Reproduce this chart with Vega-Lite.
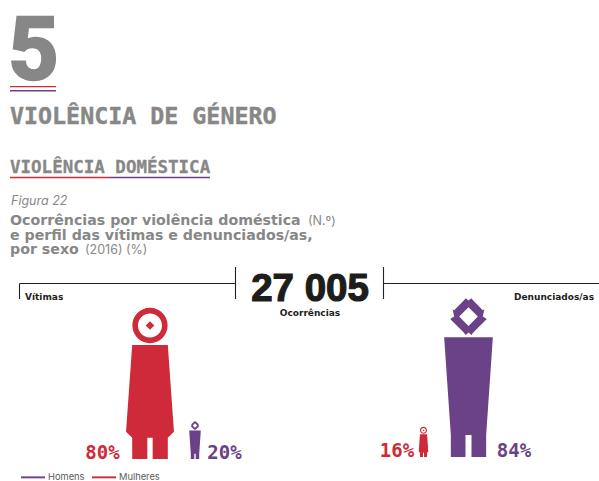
{
"$schema":"https://vega.github.io/schema/vega-lite/v6.json",
"width":599,"height":481,"padding":0,"autosize":{"type":"none"},"background":"white",
"config":{"view":{"stroke":null},"axis":{"domain":false}},
"resolve":{"scale":{"x":"independent","y":"independent"}},
"layer":[
{"data":{"values":[{"n":1}]},"encoding":{
"x":{"type":"quantitative","scale":{"domain":[0,599],"range":[0,599],"nice":false,"zero":false},"axis":null},
"y":{"type":"quantitative","scale":{"domain":[0,481],"range":[0,481],"nice":false,"zero":false},"axis":null}},
"layer":[
{"data":{"values":[{"t":"5"}]},"mark":{"type":"text","font":"Roboto","fontWeight":"bold","fontSize":88,"align":"left","baseline":"alphabetic","color":"#878787","stroke":"#878787","strokeWidth":2.5},"encoding":{"x":{"datum":8},"y":{"datum":79},"text":{"field":"t"}}},
{"data":{"values":[{"t":"VIOLÊNCIA DE GÉNERO"}]},"mark":{"type":"text","font":"DejaVu Sans Mono","fontWeight":"bold","fontSize":23.3,"align":"left","baseline":"alphabetic","color":"#878787","stroke":"#878787","strokeWidth":0.4},"encoding":{"x":{"datum":10},"y":{"datum":124},"text":{"field":"t"}}},
{"data":{"values":[{"t":"VIOLÊNCIA DOMÉSTICA"}]},"mark":{"type":"text","font":"DejaVu Sans Mono","fontWeight":"bold","fontSize":17.5,"align":"left","baseline":"alphabetic","color":"#878787","stroke":"#878787","strokeWidth":0.3},"encoding":{"x":{"datum":10},"y":{"datum":173},"text":{"field":"t"}}},
{"data":{"values":[{"t":"Figura 22"}]},"mark":{"type":"text","font":"Inter","fontStyle":"italic","fontSize":12.5,"align":"left","baseline":"alphabetic","color":"#878787"},"encoding":{"x":{"datum":11},"y":{"datum":205},"text":{"field":"t"}}},
{"data":{"values":[{"t":"Ocorrências por violência doméstica"}]},"mark":{"type":"text","font":"DejaVu Sans","fontWeight":"bold","fontSize":14.2,"align":"left","baseline":"alphabetic","color":"#878787"},"encoding":{"x":{"datum":10},"y":{"datum":225},"text":{"field":"t"}}},
{"data":{"values":[{"t":"e perfil das vítimas e denunciados/as,"}]},"mark":{"type":"text","font":"DejaVu Sans","fontWeight":"bold","fontSize":14.2,"align":"left","baseline":"alphabetic","color":"#878787"},"encoding":{"x":{"datum":10},"y":{"datum":240},"text":{"field":"t"}}},
{"data":{"values":[{"t":"por sexo"}]},"mark":{"type":"text","font":"DejaVu Sans","fontWeight":"bold","fontSize":14.2,"align":"left","baseline":"alphabetic","color":"#878787"},"encoding":{"x":{"datum":10},"y":{"datum":254},"text":{"field":"t"}}},
{"data":{"values":[{"t":"(N.º)"}]},"mark":{"type":"text","font":"Inter","fontSize":12.5,"align":"left","baseline":"alphabetic","color":"#878787"},"encoding":{"x":{"datum":308},"y":{"datum":225},"text":{"field":"t"}}},
{"data":{"values":[{"t":"(2016) (%)"}]},"mark":{"type":"text","font":"Inter","fontSize":12.5,"align":"left","baseline":"alphabetic","color":"#878787"},"encoding":{"x":{"datum":85},"y":{"datum":254},"text":{"field":"t"}}},
{"data":{"values":[{"t":"27 005"}]},"mark":{"type":"text","font":"Liberation Sans","fontWeight":"bold","fontSize":38.5,"align":"center","baseline":"alphabetic","color":"#1d1d1b","stroke":"#1d1d1b","strokeWidth":1.2},"encoding":{"x":{"datum":310},"y":{"datum":300.5},"text":{"field":"t"}}},
{"data":{"values":[{"t":"Ocorrências"}]},"mark":{"type":"text","font":"DejaVu Sans","fontWeight":"bold","fontSize":9,"align":"center","baseline":"alphabetic","color":"#1d1d1b"},"encoding":{"x":{"datum":310},"y":{"datum":316},"text":{"field":"t"}}},
{"data":{"values":[{"t":"Vítimas"}]},"mark":{"type":"text","font":"DejaVu Sans","fontWeight":"bold","fontSize":9,"align":"left","baseline":"alphabetic","color":"#1d1d1b"},"encoding":{"x":{"datum":25},"y":{"datum":300},"text":{"field":"t"}}},
{"data":{"values":[{"t":"Denunciados/as"}]},"mark":{"type":"text","font":"DejaVu Sans","fontWeight":"bold","fontSize":9,"align":"right","baseline":"alphabetic","color":"#1d1d1b"},"encoding":{"x":{"datum":594},"y":{"datum":300},"text":{"field":"t"}}},
{"mark":{"type":"rule","color":"#222222","strokeWidth":1.1},"encoding":{"x":{"datum":19.5},"x2":{"datum":235.5},"y":{"datum":283.5}}},
{"mark":{"type":"rule","color":"#222222","strokeWidth":1.1},"encoding":{"x":{"datum":19.5},"y":{"datum":283.5},"y2":{"datum":299}}},
{"mark":{"type":"rule","color":"#222222","strokeWidth":1.1},"encoding":{"x":{"datum":235.5},"y":{"datum":267},"y2":{"datum":299}}},
{"mark":{"type":"rule","color":"#222222","strokeWidth":1.1},"encoding":{"x":{"datum":383.5},"y":{"datum":267},"y2":{"datum":299}}},
{"mark":{"type":"rule","color":"#222222","strokeWidth":1.1},"encoding":{"x":{"datum":383.5},"x2":{"datum":599},"y":{"datum":283.5}}},
{"mark":{"type":"rule","color":"#cf2a3a","strokeWidth":1.2},"encoding":{"x":{"datum":10},"x2":{"datum":56},"y":{"datum":86.7}}},
{"mark":{"type":"rule","color":"#6b4187","strokeWidth":1.6},"encoding":{"x":{"datum":10},"x2":{"datum":56},"y":{"datum":90.7}}},
{"mark":{"type":"rule","color":"#cf2a3a","strokeWidth":1.6},"encoding":{"x":{"datum":10},"x2":{"datum":110},"y":{"datum":177.5}}},
{"mark":{"type":"rule","color":"#6b4187","strokeWidth":1.6},"encoding":{"x":{"datum":110},"x2":{"datum":210},"y":{"datum":177.5}}}
]},
{"data":{"values":[
{"grupo":"Vítimas","sexo":"Mulheres","pct":80,"rotulo":"80%"},
{"grupo":"Vítimas","sexo":"Homens","pct":20,"rotulo":"20%"},
{"grupo":"Denunciados/as","sexo":"Mulheres","pct":16,"rotulo":"16%"},
{"grupo":"Denunciados/as","sexo":"Homens","pct":84,"rotulo":"84%"}
]},
"encoding":{
"x":{"field":"grupo","type":"nominal","scale":{"type":"point","padding":0,"domain":["Vítimas","Denunciados/as"],"range":[172.5,446]},"axis":null},
"y":{"field":"grupo","type":"nominal","scale":{"type":"point","padding":0,"domain":["Vítimas","Denunciados/as"],"range":[459,457]},"axis":null},
"color":{"field":"sexo","type":"nominal","scale":{"domain":["Homens","Mulheres"],"range":["#6b4187","#cf2a3a"]},
"legend":{"title":null,"orient":"none","legendX":20,"legendY":464,"direction":"horizontal","symbolType":"M-1,-0.08H1V0.08H-1Z","symbolSize":576,"symbolOpacity":1,"labelFont":"Inter","labelFontSize":9.3,"labelColor":"#5a5a5a","labelOffset":2,"columnPadding":6,"padding":0}}},
"layer":[
{"mark":{"type":"point","filled":true,"opacity":1,"strokeWidth":0},
"encoding":{
"xOffset":{"field":"sexo","type":"nominal","scale":{"type":"point","padding":0,"domain":["Mulheres","Homens"],"range":[-22.5,22.5]}},
"size":{"field":"pct","type":"quantitative","legend":null,"scale":{"type":"pow","exponent":2,"domain":[0,100],"range":[0,142884]}},
"shape":{"field":"sexo","type":"nominal","legend":null,"scale":{"domain":["Mulheres","Homens"],"range":[
"M0,-0.9997A0.1167,0.1167,0,1,1,0,-0.7663A0.1167,0.1167,0,1,1,0,-0.9997ZM0,-0.9623A0.0793,0.0793,0,1,0,0,-0.8037A0.0793,0.0793,0,1,0,0,-0.9623ZM0,-0.9116L0.0286,-0.883L0,-0.8544L-0.0286,-0.883ZM-0.1178,-0.7533L0.1178,-0.7533L0.1586,-0.1806L0.1178,-0.141L0.1178,0L0.0176,0L0.0176,-0.141L-0.0176,-0.141L-0.0176,0L-0.1178,0L-0.1178,-0.141L-0.1586,-0.1806Z",
"M0,-0.985L0.018,-1L0.03,-0.985L0.09,-0.925L0.1,-0.93L0.09,-0.8845L0.1155,-0.87L0.09,-0.844L0.03,-0.784L0.018,-0.769L0,-0.784L-0.018,-0.769L-0.03,-0.784L-0.09,-0.844L-0.1155,-0.87L-0.09,-0.8845L-0.1,-0.93L-0.09,-0.925L-0.03,-0.985L-0.018,-1ZM0,-0.9433L-0.0588,-0.8845L0,-0.8257L0.0588,-0.8845ZM-0.1534,-0.7542L0.1534,-0.7542L0.1113,-0.1387L0.1113,0L0.0189,0L0.0189,-0.1387L-0.0189,-0.1387L-0.0189,0L-0.1113,0L-0.1113,-0.1387Z"
]}}}},
{"transform":[{"filter":"datum.pct==80"}],"mark":{"type":"text","font":"DejaVu Sans Mono","fontWeight":"bold","fontSize":19,"align":"center","baseline":"alphabetic","dx":-70},"encoding":{"text":{"field":"rotulo"}}},
{"transform":[{"filter":"datum.pct==20"}],"mark":{"type":"text","font":"DejaVu Sans Mono","fontWeight":"bold","fontSize":19,"align":"center","baseline":"alphabetic","dx":52},"encoding":{"text":{"field":"rotulo"}}},
{"transform":[{"filter":"datum.pct==16"}],"mark":{"type":"text","font":"DejaVu Sans Mono","fontWeight":"bold","fontSize":19,"align":"center","baseline":"alphabetic","dx":-49},"encoding":{"text":{"field":"rotulo"}}},
{"transform":[{"filter":"datum.pct==84"}],"mark":{"type":"text","font":"DejaVu Sans Mono","fontWeight":"bold","fontSize":19,"align":"center","baseline":"alphabetic","dx":68},"encoding":{"text":{"field":"rotulo"}}}
]}
]}
